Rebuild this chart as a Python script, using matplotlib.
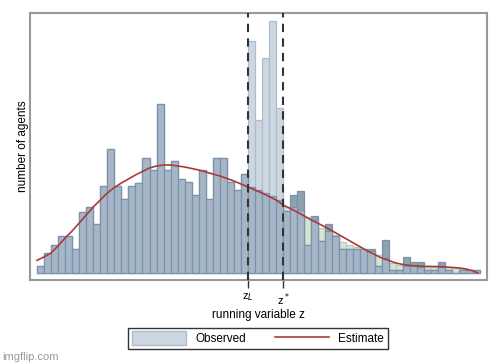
import matplotlib.pyplot as plt
from matplotlib.patches import Patch
from matplotlib.lines import Line2D
import numpy as np

plt.rcParams['font.family'] = ['Liberation Sans', 'DejaVu Sans']
plt.rcParams['font.size'] = 8.5

# observed counts per bin (63 bins)
observed = [7, 20, 28, 36.6, 36.6, 24, 61, 66, 49, 86.6,
            124, 86.6, 74, 86.6, 90, 115, 103, 169, 103, 111.6,
            94, 90.6, 78, 102.6, 74, 115, 115, 90.6, 82.6, 99,
            231.6, 152.6, 215, 252, 165, 62, 78, 82, 28, 57,
            32, 49, 36.6, 24, 24, 24, 24, 24, 7, 32.6,
            3, 3, 16, 11, 11, 3, 3, 11, 3, 0,
            3, 3, 3]

# counterfactual (estimated) counts per bin
estimated = observed[:30] + [86, 83, 80, 76.5, 73,
                             66, 66, 63, 56, 53, 45, 42, 38, 31, 28,
                             26, 24, 22, 18, 15, 10, 8, 7, 7, 6,
                             6, 6, 6, 6, 5, 4, 3, 3]

# smooth estimate line, read at bin edges
curve_x = [0, 1, 2, 3, 4, 5, 6, 7, 8, 9, 10, 11, 12, 13, 14, 15, 16, 17, 18, 19,
           20, 21, 22, 23, 24, 25, 26, 27, 28, 29, 30, 31, 32, 33, 34, 35, 36, 37, 38, 39,
           40, 41, 42, 43, 44, 45, 46, 47, 48, 49, 50, 51, 52, 53, 54, 55, 56, 57, 58, 59,
           60, 61, 62, 62.7]
curve_y = [12.6, 16, 20, 27, 35, 42, 50, 58, 66, 73, 80, 85.5, 90, 94, 98, 101.5, 105, 107, 108, 108,
           107, 106, 104.5, 103, 101, 99, 97, 94.5, 92, 89, 86, 83, 80, 76.5, 73, 68, 64.5, 61, 57, 53,
           49.5, 46, 42, 38, 34, 30, 26, 22, 18.5, 15, 12.5, 10, 8.5, 7.5, 7, 6.6, 6.5, 6.3, 6, 5.5,
           5, 4, 2, 0]

z_low = 30
z_star = 35

c_base = '#a7b6c7'
c_light = '#cdd7e2'
c_dark = '#8ea3b0'
c_green = '#d6e4d4'
c_edge = '#7a93aa'

fig = plt.figure(figsize=(5, 3.64), dpi=100)
ax = fig.add_axes([0.06, 0.231, 0.914, 0.733])

obs = np.array(observed)
est = np.array(estimated)
x = np.arange(len(obs))
bunch = (x >= z_low) & (x < z_star)
low = np.minimum(obs, est)

# light part of observed above the estimate in the bunching window
ax.bar(x[bunch], obs[bunch], width=1, align='edge', color=c_light, edgecolor='#aebdcc', linewidth=0.9, zorder=2)
# estimate sticking out above observed
ax.bar(x, np.where(est > obs, est, 0), width=1, align='edge', color=c_green, edgecolor='#b9ccbf', linewidth=0.9, zorder=1)
# observed sticking out above estimate, outside the window
ax.bar(x[~bunch], obs[~bunch], width=1, align='edge', color=c_dark, edgecolor=c_edge, linewidth=0.9, zorder=2)
# overlap
ax.bar(x, low, width=1, align='edge', color=c_base, edgecolor=c_edge, linewidth=0.9, zorder=3)

ax.plot(curve_x, curve_y, color='#a83a3a', linewidth=1.2, zorder=5)

ax.axvline(z_low, color='#333333', linestyle=(0, (4, 3)), linewidth=1.5, zorder=6)
ax.axvline(z_star, color='#333333', linestyle=(0, (4, 3)), linewidth=1.5, zorder=6)

ax.set_xlim(-1, 64)
ax.set_ylim(-7, 260)
ax.set_yticks([])
ax.set_xticks([z_low, z_star])
ax.set_xticklabels(['z$_L$', 'z$^*$'], fontsize=8)
ax.tick_params(axis='x', length=6, width=1, color='#333333', pad=2)
for s in ax.spines.values():
    s.set_color('#999999')
    s.set_linewidth(1.5)

ax.set_xlabel('running variable z', labelpad=1)
ax.set_ylabel('number of agents', labelpad=1)

handles = [Patch(facecolor=c_light, edgecolor='#aebdcc'),
           Line2D([0], [0], color='#a83a3a', linewidth=1.2)]
fig.legend(handles, ['Observed', 'Estimate'], loc='center', bbox_to_anchor=(0.516, 0.071),
           ncol=2, handlelength=4.6, handleheight=1.4, columnspacing=2.4, fancybox=False,
           edgecolor='#333333', framealpha=1, borderpad=0.3)

fig.text(0.004, 0.012, 'imgflip.com', color='#9a9a9a', fontsize=8)

plt.savefig('out.png', dpi=100)
